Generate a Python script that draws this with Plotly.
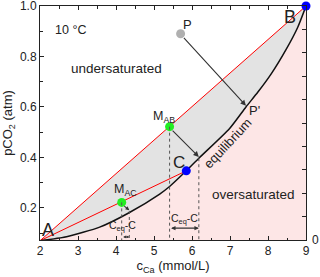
import plotly.graph_objects as go

# equilibrium curve (c_Ca in mmol/L, pCO2 in atm)
eq_x = [2.0, 2.7, 3.57, 4.32, 5.15, 5.41, 5.85, 6.18, 6.99, 7.42, 7.73, 8.08, 8.47, 8.78, 9.0]
eq_y = [0.07, 0.086, 0.124, 0.179, 0.255, 0.285, 0.347, 0.397, 0.515, 0.600, 0.658, 0.730, 0.826, 0.915, 1.0]

# named points
pt_A = (2.0, 0.07)
pt_B = (9.0, 1.0)
pt_C = (5.85, 0.347)
pt_MAB = (5.41, 0.522)
pt_MAC = (4.15, 0.222)
pt_P = (5.70, 0.89)
pt_Pp = (7.42, 0.600)
ceq_AB_x = 6.18
ceq_AB_y = 0.397
ceq_AC_x = 4.35
ceq_AC_y = 0.188

x_ticks = [2, 3, 4, 5, 6, 7, 8, 9]
y_ticks = [0.2, 0.4, 0.6, 0.8, 1.0]

YMIN = 0.073
FONT = "Liberation Sans, Arial, sans-serif"
PINK = "#fde6e6"
GRAY = "#e3e3e3"
INK = "#222222"

fig = go.Figure()

# oversaturated region (below curve)
fig.add_trace(go.Scatter(
    x=eq_x + [9.0, 2.0], y=eq_y + [0.0, 0.0],
    fill="toself", fillcolor=PINK, line=dict(width=0), mode="lines",
    hoverinfo="skip", showlegend=False))
# region between AB line and curve
fig.add_trace(go.Scatter(
    x=[pt_A[0], pt_B[0]] + eq_x[::-1], y=[pt_A[1], pt_B[1]] + eq_y[::-1],
    fill="toself", fillcolor=GRAY, line=dict(width=0), mode="lines",
    hoverinfo="skip", showlegend=False))

# red mixing lines
fig.add_trace(go.Scatter(x=[pt_A[0], pt_B[0]], y=[pt_A[1], pt_B[1]], mode="lines",
                         line=dict(color="#ff0000", width=1), showlegend=False))
fig.add_trace(go.Scatter(x=[pt_A[0], pt_C[0]], y=[pt_A[1], pt_C[1]], mode="lines",
                         line=dict(color="#ff0000", width=1), showlegend=False))
# equilibrium curve
fig.add_trace(go.Scatter(x=eq_x, y=eq_y, mode="lines",
                         line=dict(color="#111111", width=1.5, shape="spline", smoothing=0.6),
                         showlegend=False))

# dotted verticals
for xv, yv in [(pt_MAC[0], pt_MAC[1]), (ceq_AC_x, ceq_AC_y), (pt_MAB[0], pt_MAB[1]), (ceq_AB_x, ceq_AB_y)]:
    fig.add_shape(type="line", x0=xv, x1=xv, y0=yv, y1=YMIN, xref="x", yref="y",
                  line=dict(color="#555555", width=1, dash="dot"))

# points
pts_x = [pt_P[0], pt_MAB[0], pt_MAC[0], pt_A[0], pt_B[0], pt_C[0]]
pts_y = [pt_P[1], pt_MAB[1], pt_MAC[1], pt_A[1], pt_B[1], pt_C[1]]
pts_c = ["#b0b0b0", "#22ee22", "#22ee22", "#ff0000", "#0000ff", "#0000ff"]
fig.add_trace(go.Scatter(x=pts_x, y=pts_y, mode="markers", cliponaxis=False,
                         marker=dict(size=9, color=pts_c, line=dict(width=0)), showlegend=False))

# invisible trace for right axis
fig.add_trace(go.Scatter(x=[2], y=[0], yaxis="y2", mode="markers", marker=dict(opacity=0),
                         showlegend=False, hoverinfo="skip"))

def arrow(x0, y0, x1, y1, side="end", head=2, size=1.0):
    fig.add_annotation(x=x1, y=y1, ax=x0, ay=y0, xref="x", yref="y", axref="x", ayref="y",
                       text="", showarrow=True, arrowhead=head, arrowsize=size, arrowwidth=1.1,
                       arrowcolor="#333333", arrowside=side, startarrowhead=head, startarrowsize=size)

arrow(pt_P[0] + 0.05, pt_P[1] - 0.01, pt_Pp[0], pt_Pp[1] + 0.005)
arrow(pt_MAB[0] + 0.04, pt_MAB[1] - 0.01, ceq_AB_x, ceq_AB_y + 0.005)
arrow(pt_MAC[0] + 0.03, pt_MAC[1] - 0.01, ceq_AC_x, ceq_AC_y + 0.003, size=0.7)
arrow(pt_MAB[0], 0.12, ceq_AB_x, 0.12, side="end+start", size=0.8)
arrow(pt_MAC[0], 0.085, ceq_AC_x, 0.085, side="end+start", size=0.5)

def label(x, y, text, size=12, color=INK, angle=0):
    fig.add_annotation(x=x, y=y, xref="x", yref="y", text=text, showarrow=False,
                       font=dict(family=FONT, size=size, color=color), textangle=angle)

label(2.79, 0.905, "10 °C", size=12.5)
label(4.02, 0.754, "undersaturated", size=13.5)
label(7.62, 0.254, "oversaturated", size=13.5)
label(2.21, 0.113, "A", size=18)
label(8.58, 0.955, "B", size=18)
label(5.67, 0.379, "C", size=17)
label(5.89, 0.925, "P", size=13)
label(7.64, 0.588, "P'", size=13)
label(5.25, 0.56, "M<sub>AB</sub>", size=12.5)
label(4.26, 0.271, "M<sub>AC</sub>", size=12.5)
label(6.93, 0.457, "equilibrium", size=13, angle=-47)
label(5.81, 0.158, "C<sub>eq</sub>-C", size=10.5)
label(4.18, 0.127, "C<sub>eq</sub>-C", size=10.5)

# right-axis "0" label
fig.add_annotation(x=1, y=0, xref="paper", yref="paper", xanchor="left", yanchor="middle", xshift=4,
                   text="0", showarrow=False, font=dict(family=FONT, size=12, color=INK))

axis_common = dict(showline=True, linecolor=INK, linewidth=1, ticks="inside", ticklen=4,
                   tickcolor=INK, tickfont=dict(family=FONT, size=12, color=INK),
                   showgrid=False, zeroline=False, ticklabeloverflow="allow")

fig.update_layout(
    width=320, height=277,
    margin=dict(l=40, r=14, t=6, b=37, autoexpand=False),
    plot_bgcolor="white", paper_bgcolor="white",
    xaxis=dict(range=[2, 9], tickvals=x_ticks, mirror="ticks",
               title=dict(text="c<sub>Ca</sub> (mmol/L)", font=dict(family=FONT, size=13, color=INK), standoff=2),
               minor=dict(dtick=0.5, ticks="inside", ticklen=2.5, tickcolor=INK),
               **axis_common),
    yaxis=dict(range=[YMIN, 1.0], tickvals=y_ticks, tickformat=".1f",
               title=dict(text="pCO<sub>2</sub> (atm)", font=dict(family=FONT, size=13, color=INK), standoff=4),
               minor=dict(dtick=0.1, ticks="inside", ticklen=2.5, tickcolor=INK),
               **axis_common),
    yaxis2=dict(overlaying="y", side="right", range=[0, 10], tickvals=list(range(11)),
                showticklabels=False, showline=True, linecolor=INK, linewidth=1, ticks="inside",
                ticklen=4, tickcolor=INK, showgrid=False, zeroline=False),
)

# remove the browser's default 8px body margin so the figure sits at the window origin
fig.write_html("out.html", config={"displayModeBar": False},
               post_script="document.body.style.margin='0';")
